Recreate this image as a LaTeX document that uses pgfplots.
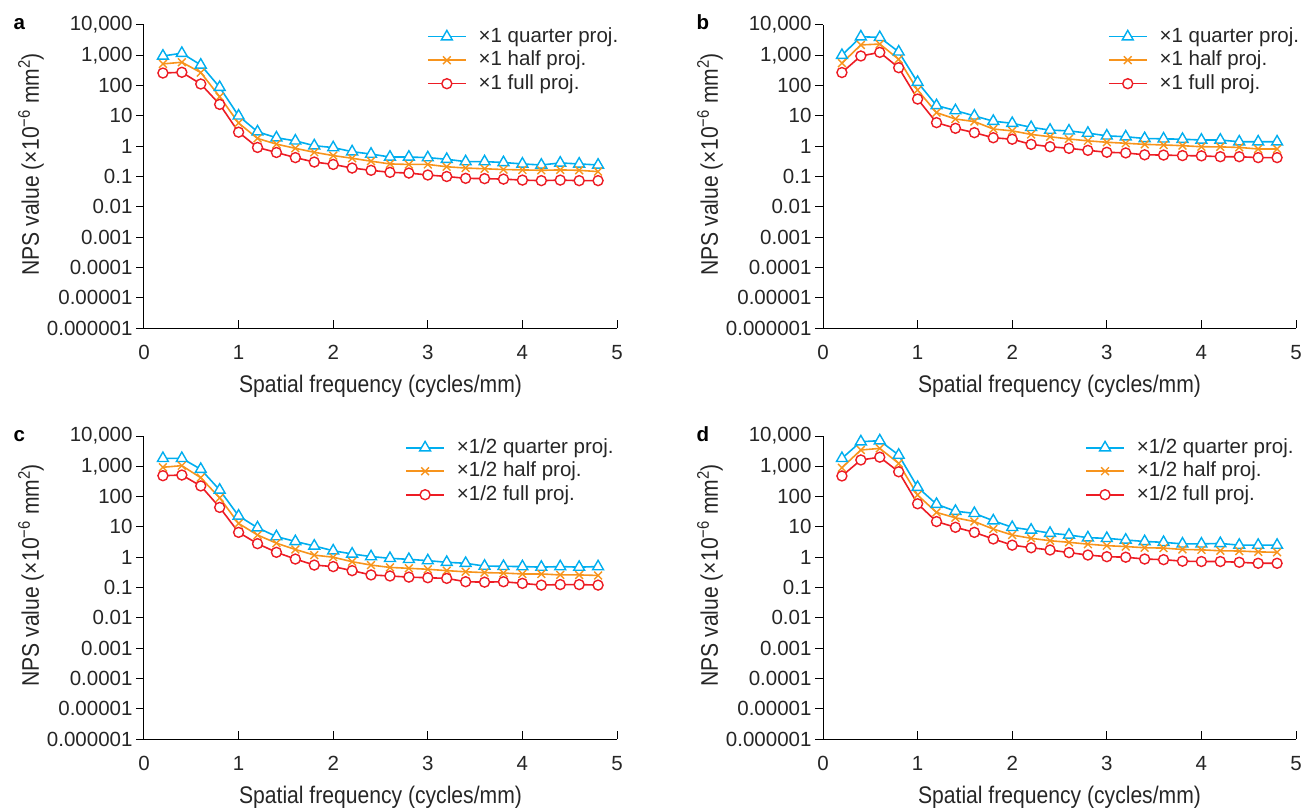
\documentclass[border=0pt]{standalone}
\usepackage{fontspec}
\setmainfont{Liberation Sans}
\newfontfamily\lblfont[FakeStretch=0.88]{Liberation Sans}
\usepackage{pgfplots}
\pgfplotsset{compat=1.18}
\usepackage{pgfplotstable}

\definecolor{cq}{RGB}{0,174,239}
\definecolor{ch}{RGB}{247,148,29}
\definecolor{cf}{RGB}{237,28,36}
\newcommand{\fsz}{\fontsize{20.5}{24}\selectfont}
\newcommand{\lsz}{\lblfont\fontsize{24}{28}\selectfont}

% x = spatial frequency, q/h/f = quarter/half/full projections
\pgfplotstableread{
x q h f
0.2 950 520 260
0.4 1170 590 275
0.6 480 270 113
0.8 88 43 24
1.0 10 5.8 2.9
1.2 3.0 1.8 0.91
1.4 1.9 1.17 0.62
1.6 1.5 0.85 0.42
1.8 1.04 0.63 0.30
2.0 0.9 0.49 0.25
2.2 0.66 0.40 0.19
2.4 0.55 0.32 0.16
2.6 0.44 0.26 0.137
2.8 0.44 0.25 0.13
3.0 0.42 0.25 0.112
3.2 0.37 0.21 0.10
3.4 0.31 0.19 0.087
3.6 0.31 0.18 0.085
3.8 0.29 0.17 0.082
4.0 0.26 0.165 0.076
4.2 0.24 0.16 0.073
4.4 0.28 0.165 0.076
4.6 0.26 0.16 0.073
4.8 0.24 0.145 0.073
}\tabA

\pgfplotstableread{
x q h f
0.2 1000 550 270
0.4 4100 2200 950
0.6 3900 2350 1250
0.8 1300 740 390
1.0 129 71 36
1.2 22 12.8 6.0
1.4 15 7.9 3.9
1.6 10 6.5 2.8
1.8 6.7 3.7 1.9
2.0 5.7 3.2 1.7
2.2 4.2 2.45 1.15
2.4 3.4 2.05 0.96
2.6 3.2 1.73 0.85
2.8 2.7 1.5 0.73
3.0 2.2 1.35 0.63
3.2 2.05 1.25 0.6
3.4 1.8 1.15 0.52
3.6 1.75 1.1 0.51
3.8 1.7 1.04 0.49
4.0 1.6 0.96 0.48
4.2 1.6 0.95 0.45
4.4 1.4 0.91 0.45
4.6 1.4 0.81 0.42
4.8 1.4 0.81 0.42
}\tabB

\pgfplotstableread{
x q h f
0.2 1830 930 490
0.4 1830 1050 515
0.6 800 420 225
0.8 165 91 44
1.0 23 13 6.6
1.2 9.4 5.4 2.8
1.4 4.8 2.9 1.45
1.6 3.3 1.8 0.87
1.8 2.35 1.17 0.55
2.0 1.63 1.0 0.49
2.2 1.28 0.71 0.36
2.4 1.05 0.55 0.26
2.6 0.92 0.46 0.24
2.8 0.85 0.43 0.22
3.0 0.77 0.40 0.21
3.2 0.68 0.36 0.20
3.4 0.63 0.33 0.155
3.6 0.51 0.31 0.15
3.8 0.50 0.30 0.155
4.0 0.49 0.28 0.137
4.2 0.47 0.28 0.12
4.4 0.49 0.26 0.125
4.6 0.47 0.26 0.125
4.8 0.49 0.25 0.12
}\tabC

\pgfplotstableread{
x q h f
0.2 1830 900 480
0.4 6500 3450 1620
0.6 7000 3900 2000
0.8 2350 1250 660
1.0 204 112 58
1.2 56 30 15
1.4 33 20 9.7
1.6 28 15 6.6
1.8 16 8.5 4.0
2.0 9.7 5.4 2.5
2.2 7.9 4.2 2.05
2.4 6.2 3.5 1.73
2.6 5.4 3.1 1.42
2.8 4.4 2.7 1.18
3.0 4.2 2.4 1.04
3.2 3.7 2.25 1.0
3.4 3.3 2.05 0.87
3.6 3.1 2.0 0.83
3.8 2.75 1.8 0.74
4.0 2.75 1.75 0.72
4.2 2.85 1.63 0.72
4.4 2.5 1.6 0.68
4.6 2.5 1.5 0.63
4.8 2.5 1.45 0.63
}\tabD

\pgfplotsset{
  scale only axis, width=473pt, height=303pt,
  xmin=0, xmax=5, ymin=1e-6, ymax=1e4,
  axis x line*=bottom, axis y line*=left,
  axis line style={-, line width=1pt},
  xtick={0,1,2,3,4,5}, xticklabels={0,1,2,3,4,5},
  ytick={1e-6,1e-5,1e-4,1e-3,1e-2,1e-1,1,10,100,1000,10000},
  yticklabels={0.000001,0.00001,0.0001,0.001,0.01,0.1,1,10,100,{1,000},{10,000}},
  yminorticks=false, xminorticks=false,
  xtick align=inside, ytick align=outside,
  major tick length=8pt,
  tick style={black, line width=1pt},
  tick label style={font=\fsz, text=black!85},
  xticklabel style={anchor=base, yshift=-31pt},
  xlabel={Spatial frequency (cycles/mm)},
  ylabel={NPS value (×10\textsuperscript{−6} mm\textsuperscript{2})},
  every axis x label/.style={at={(axis description cs:0.5,-0.2145)}, anchor=base,
    font=\lsz, text=black!85},
  every axis y label/.style={at={(axis description cs:-0.222,0.54)}, rotate=90, anchor=base,
    font=\lsz, text=black!85},
  legend style={draw=none, fill=none, font=\fsz, text=black!85, anchor=north west,
    inner sep=0pt, row sep=2.5pt, column sep=11pt, yshift=-1pt,
    nodes={inner sep=1pt, text height=15pt, text depth=4pt}},
  legend cell align=left,
  legend image code/.code={\draw[mark repeat=2, mark phase=2, #1] plot coordinates {(0pt,0pt) (19pt,0pt) (38pt,0pt)};},
  serq/.style={color=cq, line width=1.6pt, mark=triangle*, mark size=6.3pt, mark options={fill=white, solid, line width=1.4pt}},
  serh/.style={color=ch, line width=1.6pt, mark=x, mark size=5.5pt, mark options={solid, line width=1.4pt}},
  serf/.style={color=cf, line width=1.6pt, mark=*, mark size=5pt, mark options={fill=white, solid, line width=1.4pt}},
}

\begin{document}
\begin{tikzpicture}
\useasboundingbox (0,0) rectangle (1307pt,-810pt);

\begin{semilogyaxis}[at={(144pt,-328pt)}, anchor=south west,
  legend style={at={(rel axis cs:0.598,1)}}]
\addplot[serq] table[x=x, y=q] {\tabA};
\addlegendentry{×1 quarter proj.}
\addplot[serh] table[x=x, y=h] {\tabA};
\addlegendentry{×1 half proj.}
\addplot[serf] table[x=x, y=f] {\tabA};
\addlegendentry{×1 full proj.}
\end{semilogyaxis}

\begin{semilogyaxis}[at={(823pt,-328pt)}, anchor=south west,
  legend style={at={(rel axis cs:0.602,1)}}]
\addplot[serq] table[x=x, y=q] {\tabB};
\addlegendentry{×1 quarter proj.}
\addplot[serh] table[x=x, y=h] {\tabB};
\addlegendentry{×1 half proj.}
\addplot[serf] table[x=x, y=f] {\tabB};
\addlegendentry{×1 full proj.}
\end{semilogyaxis}

\begin{semilogyaxis}[at={(144pt,-739pt)}, anchor=south west,
  legend style={at={(rel axis cs:0.552,1)}}]
\addplot[serq] table[x=x, y=q] {\tabC};
\addlegendentry{×1/2 quarter proj.}
\addplot[serh] table[x=x, y=h] {\tabC};
\addlegendentry{×1/2 half proj.}
\addplot[serf] table[x=x, y=f] {\tabC};
\addlegendentry{×1/2 full proj.}
\end{semilogyaxis}

\begin{semilogyaxis}[at={(823pt,-739pt)}, anchor=south west,
  legend style={at={(rel axis cs:0.554,1)}}]
\addplot[serq] table[x=x, y=q] {\tabD};
\addlegendentry{×1/2 quarter proj.}
\addplot[serh] table[x=x, y=h] {\tabD};
\addlegendentry{×1/2 half proj.}
\addplot[serf] table[x=x, y=f] {\tabD};
\addlegendentry{×1/2 full proj.}
\end{semilogyaxis}

\node[anchor=base west, font=\bfseries\fsz] at (10pt,-30pt) {a};
\node[anchor=base west, font=\bfseries\fsz] at (693pt,-30pt) {b};
\node[anchor=base west, font=\bfseries\fsz] at (10pt,-441pt) {c};
\node[anchor=base west, font=\bfseries\fsz] at (693pt,-441pt) {d};
\end{tikzpicture}
\end{document}
